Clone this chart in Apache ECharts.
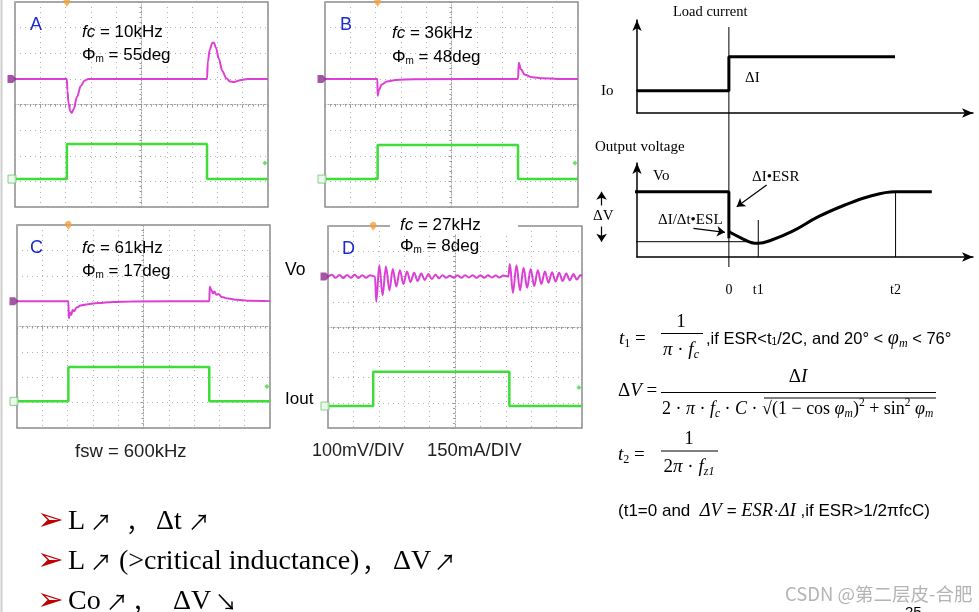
<!DOCTYPE html>
<html><head><meta charset="utf-8">
<script src="https://cdn.jsdelivr.net/npm/echarts@6/dist/echarts.min.js"></script>
<style>html,body{margin:0;padding:0;background:#fff}#c{width:979px;height:612px}</style>
</head><body><div id="c"></div>
<script>
// ---------- Oscilloscope traces: [time (div from centre), level (div from centre)]
const vA = [[-5,1.0],[-2.95,1.0],[-2.93,0.55],[-2.88,0.05],[-2.82,-0.25],[-2.76,-0.33],[-2.68,-0.18],[-2.55,0.3],[-2.4,0.72],[-2.25,0.93],[-2.1,1.0],[2.59,1.0],[2.62,1.65],[2.7,2.15],[2.8,2.4],[2.86,2.42],[2.95,2.2],[3.05,1.8],[3.2,1.3],[3.35,1.02],[3.5,0.9],[3.65,0.88],[3.9,0.95],[4.2,1.0],[5,1.0]];
const iA = [[-5,-2.91],[-2.95,-2.91],[-2.95,-1.54],[2.59,-1.54],[2.59,-2.91],[5,-2.91]];
const vB = [[-5,1.0],[-2.93,1.0],[-2.92,0.34],[-2.86,0.58],[-2.76,0.78],[-2.55,0.9],[-2.2,0.96],[-1.5,0.99],[2.63,1.0],[2.66,1.63],[2.74,1.38],[2.9,1.16],[3.2,1.06],[3.6,1.02],[4.2,1.0],[5,1.0]];
const iB = [[-5,-2.91],[-2.92,-2.91],[-2.92,-1.58],[2.63,-1.58],[2.63,-2.91],[5,-2.91]];
const vC = [[-5,1.0],[-2.97,1.0],[-2.95,0.33],[-2.9,0.55],[-2.86,0.45],[-2.8,0.65],[-2.74,0.6],[-2.65,0.75],[-2.45,0.84],[-2.2,0.88],[-1.8,0.93],[-1.2,0.97],[-0.5,0.99],[2.6,1.0],[2.62,1.57],[2.68,1.45],[2.74,1.3],[2.8,1.38],[2.88,1.25],[2.96,1.28],[3.1,1.16],[3.35,1.1],[3.7,1.05],[4.2,1.01],[5,1.0]];
const iC = [[-5,-2.95],[-2.97,-2.95],[-2.97,-1.6],[2.6,-1.6],[2.6,-2.95],[5,-2.95]];
const vD = [[-5,2.0],[-4.85,2.07],[-4.7,1.95],[-4.55,2.06],[-4.4,1.94],[-4.25,2.06],[-4.1,1.95],[-3.95,2.07],[-3.8,1.94],[-3.65,2.05],[-3.5,1.95],[-3.35,2.05],[-3.15,2.0],[-3.1,1.0],[-2.98,2.45],[-2.85,1.25],[-2.72,2.4],[-2.58,1.45],[-2.45,2.3],[-2.31,1.6],[-2.17,2.25],[-2.03,1.7],[-1.89,2.2],[-1.75,1.78],[-1.61,2.15],[-1.47,1.82],[-1.33,2.12],[-1.19,1.86],[-1.05,2.1],[-0.91,1.9],[-0.77,2.07],[-0.63,1.93],[-0.49,2.05],[-0.35,1.95],[-0.2,2.03],[-0.05,1.95],[0.1,2.05],[0.25,1.95],[0.4,2.05],[0.55,1.96],[0.7,2.05],[0.85,1.95],[1.0,2.05],[1.15,1.95],[1.3,2.05],[1.45,1.96],[1.6,2.04],[1.75,1.96],[1.9,2.04],[2.1,2.0],[2.16,2.5],[2.28,1.35],[2.42,2.45],[2.56,1.45],[2.7,2.35],[2.84,1.55],[2.98,2.3],[3.12,1.62],[3.26,2.25],[3.4,1.7],[3.54,2.2],[3.68,1.75],[3.82,2.17],[3.96,1.8],[4.1,2.15],[4.24,1.82],[4.38,2.12],[4.52,1.85],[4.66,2.1],[4.8,1.88],[4.94,2.06],[5,2.0]];
const iD = [[-5,-3.13],[-3.22,-3.13],[-3.22,-1.77],[2.14,-1.77],[2.14,-3.13],[5,-3.13]];
const triggerX = [-2.95, -2.92, -2.97, -3.22];
const rightMarkY = [-2.28, -2.28, -2.36, -2.4];
const panelNames = ['A', 'B', 'C', 'D'];
const panelFc = ['10kHz', '36kHz', '61kHz', '27kHz'];
const panelPm = ['55deg', '48deg', '17deg', '8deg'];

// ---------- Transient diagram (time units, level units)
const loadLead = [[-0.33,2.23],[0,2.23]];
const loadCurrent = [[0,2.23],[3.5,2.23],[3.5,5.63],[9.83,5.63]];
const vHold = [[-1.41,6.53],[3.5,6.53],[3.5,1.87]];
const vRecover = [[3.52,2.55],[3.61,2.37],[3.99,1.87],[4.37,1.43],[4.62,1.37],[5.13,1.7],[5.89,2.53],[6.91,4.03],[7.92,5.2],[8.81,6.03],[9.83,6.53],[11.23,6.53]];
const dvBottom = [[-1.41,1.53],[4.4,1.53]];
const zeroLine = [[3.5,23],[3.5,-1.0]];
const t1Line = [[4.62,3.7],[4.62,0]];
const t2Line = [[9.85,6.53],[9.85,0]];
const dvArrow = [[-1.35,6.53],[-1.35,1.53]];
const esrArrow = [[4.94,7.2],[3.8,5.03]];
const eslArrow = [[2.15,2.87],[3.35,2.47]];
const diagTickValues = [3.5, 4.62, 9.85];
const diagTickLabels = ['0', 't1', 't2'];

const SANS = '"Liberation Sans", Arial, sans-serif';
const SERIF = '"Liberation Serif", "Times New Roman", serif';
const MAG = '#dc3fd6', GRN = '#3fdc3a';

const vTraces = [vA, vB, vC, vD];
const iTraces = [iA, iB, iC, iD];
const grids = [], xAxes = [], yAxes = [], series = [];
const scopeGrids = [
  {left: 15, top: 2, width: 253, height: 205},
  {left: 325, top: 2, width: 253, height: 205},
  {left: 17, top: 225, width: 253, height: 203},
  {left: 328, top: 226, width: 254, height: 202}
];
scopeGrids.forEach((g, k) => {
  grids.push(Object.assign({show: true, borderColor: '#8a8a8a', borderWidth: 1.5, backgroundColor: '#fff'}, g));
  const ax = {
    type: 'value', gridIndex: k, interval: 1, axisLabel: {show: false},
    axisLine: {show: true, onZero: true, lineStyle: {color: '#a0a0a0', width: 1, type: [1, 2]}},
    axisTick: {show: true, length: 3, lineStyle: {color: '#999'}},
    minorTick: {show: true, splitNumber: 5, length: 2, lineStyle: {color: '#999'}},
    splitLine: {show: true, lineStyle: {color: '#b0b0b0', width: 1, type: [1, 4]}}
  };
  xAxes.push(Object.assign({}, ax, {min: -5, max: 5}));
  yAxes.push(Object.assign({}, ax, {min: -4, max: 4}));
  series.push({type: 'line', xAxisIndex: k, yAxisIndex: k, data: iTraces[k], showSymbol: false, silent: true,
    lineStyle: {color: GRN, width: 2.5}, z: 3});
  series.push({type: 'line', xAxisIndex: k, yAxisIndex: k, data: vTraces[k], showSymbol: false, silent: true,
    smooth: 0.35, smoothMonotone: 'x', lineStyle: {color: MAG, width: 2}, z: 4});
  series.push({type: 'scatter', xAxisIndex: k, yAxisIndex: k, clip: false, silent: true, z: 5,
    data: [[triggerX[k], 3.78]], symbol: 'pin', symbolSize: 11, itemStyle: {color: '#f2a03c'}});
  series.push({type: 'scatter', xAxisIndex: k, yAxisIndex: k, clip: false, silent: true, z: 5,
    data: [[-5, vTraces[k][0][1]]], symbol: 'path://M0,0 L6,0 L10,5 L6,10 L0,10 Z', symbolSize: [9, 8], symbolOffset: [-3, 0],
    itemStyle: {color: '#8e2a8e'}});
  series.push({type: 'scatter', xAxisIndex: k, yAxisIndex: k, clip: false, silent: true, z: 5,
    data: [[-5, iTraces[k][0][1]]], symbol: 'rect', symbolSize: [8, 8], symbolOffset: [-3, 0],
    itemStyle: {color: '#e8f8e8', borderColor: '#6cc46c', borderWidth: 1}});
  series.push({type: 'scatter', xAxisIndex: k, yAxisIndex: k, clip: false, silent: true, z: 5,
    data: [[4.88, rightMarkY[k]]], symbol: 'diamond', symbolSize: 5, itemStyle: {color: GRN}});
});

// diagram grids
grids.push({left: 637, top: 20, width: 336, height: 93, show: false});
grids.push({left: 637, top: 163, width: 336, height: 94, show: false});
const dLine = {show: true, onZero: false, symbol: ['none', 'arrow'], symbolSize: [7, 11], lineStyle: {color: '#000', width: 1.5}};
[4, 5].forEach(gi => {
  xAxes.push({type: 'value', gridIndex: gi, min: 0, max: 12.8, axisLine: dLine, axisTick: {show: false},
    splitLine: {show: false},
    axisLabel: gi === 5 ? {show: true, customValues: diagTickValues, margin: 26, fontFamily: SERIF, fontSize: 14, color: '#000',
      formatter: v => diagTickLabels[diagTickValues.indexOf(v)]} : {show: false}});
  yAxes.push({type: 'value', gridIndex: gi, min: 0, max: gi === 4 ? 9.3 : 9.4, axisLine: dLine, axisTick: {show: false},
    splitLine: {show: false}, axisLabel: {show: false}});
});
function dser(gi, data, w, extra) {
  series.push(Object.assign({type: 'line', xAxisIndex: gi, yAxisIndex: gi, data: data, showSymbol: false, clip: false,
    silent: true, lineStyle: {color: '#000', width: w}, z: 3}, extra || {}));
}
dser(4, loadLead, 1.2);
dser(4, loadCurrent, 3);
dser(5, zeroLine, 1);
dser(5, t1Line, 1);
dser(5, t2Line, 1);
dser(5, dvBottom, 1);
dser(5, vHold, 3);
dser(5, vRecover, 3, {smooth: 0.4});
series.push({type: 'lines', coordinateSystem: 'cartesian2d', xAxisIndex: 5, yAxisIndex: 5, clip: false, silent: true, z: 4,
  symbol: ['none', 'arrow'], symbolSize: 8, lineStyle: {color: '#000', width: 1.2, opacity: 1, curveness: 0},
  data: [{coords: esrArrow}, {coords: eslArrow}]});
series.push({type: 'lines', coordinateSystem: 'cartesian2d', xAxisIndex: 5, yAxisIndex: 5, clip: false, silent: true, z: 4,
  symbol: ['arrow', 'arrow'], symbolSize: 8, lineStyle: {color: '#000', width: 1.2, opacity: 1, curveness: 0},
  data: [{coords: dvArrow}]});

// ---------- text
const G = [];
function T(x, y, text, st) {
  G.push({type: 'text', x: x, y: y, z: 50, silent: true,
    style: Object.assign({text: text, fill: '#000', fontFamily: SANS, fontSize: 14, align: 'left', verticalAlign: 'middle'}, st || {})});
}
function L(x1, y1, x2, y2, w, c) {
  G.push({type: 'line', z: 50, silent: true, shape: {x1: x1, y1: y1, x2: x2, y2: y2}, style: {stroke: c || '#000', lineWidth: w || 1}});
}
G.push({type: 'line', z: 1, silent: true, shape: {x1: 1.5, y1: 0, x2: 1.5, y2: 612}, style: {stroke: '#cfcfcf', lineWidth: 2}});
G.push({type: 'rect', z: 40, silent: true, shape: {x: 390, y: 217, width: 128, height: 17}, style: {fill: '#fff'}});

const labelPos = [[30, 25, 82, 32, 55], [340, 25, 392, 33, 57], [30, 248, 82, 248, 271], [342, 249, 400, 225, 246]];
labelPos.forEach((p, k) => {
  T(p[0], p[1], panelNames[k], {fill: '#1a2ad0', fontSize: 18});
  T(p[2], p[3], '{i|fc} = ' + panelFc[k], {fontSize: 17, rich: {i: {fontStyle: 'italic', fontFamily: SANS, fontSize: 17}}});
  T(p[2], p[4], 'Φ{s|m} = ' + panelPm[k], {fontSize: 17, rich: {s: {fontFamily: SANS, fontSize: 10, padding: [8, 0, 0, 0]}}});
});
T(285, 270, 'Vo', {fontSize: 17.5});
T(285, 399, 'Iout', {fontSize: 17});
T(75, 452, 'fsw = 600kHz', {fontSize: 18.5, fill: '#222'});
T(312, 451, '100mV/DIV', {fontSize: 18, fill: '#222'});
T(427, 451, '150mA/DIV', {fontSize: 18.5, fill: '#222'});

// diagram labels
const DS = {fontFamily: SERIF, fontSize: 15};
T(673, 12, 'Load current', {fontFamily: SERIF, fontSize: 14.5});
T(601, 91, 'Io', DS);
T(745, 78, 'ΔI', DS);
T(595, 147, 'Output voltage', DS);
T(653, 176, 'Vo', DS);
T(752, 177, 'ΔI•ESR', DS);
T(593, 216, 'ΔV', Object.assign({backgroundColor: '#fff', padding: [3, 0]}, DS));
T(658, 220, 'ΔI/Δt•ESL', DS);

// formulas
const R = {
  it: {fontFamily: SERIF, fontStyle: 'italic', fontSize: 19},
  n: {fontFamily: SERIF, fontSize: 19},
  sb: {fontFamily: SERIF, fontSize: 12, padding: [10, 0, 0, 0]},
  sb2: {fontFamily: SERIF, fontStyle: 'italic', fontSize: 12, padding: [10, 0, 0, 0]},
  sp: {fontFamily: SERIF, fontSize: 12, padding: [0, 0, 12, 0]}
};
const R2 = {
  it: {fontFamily: SERIF, fontStyle: 'italic', fontSize: 18},
  n: {fontFamily: SERIF, fontSize: 18},
  sb2: {fontFamily: SERIF, fontStyle: 'italic', fontSize: 11.5, padding: [10, 0, 0, 0]},
  sp: {fontFamily: SERIF, fontSize: 11.5, padding: [0, 0, 12, 0]}
};
const F = {fontFamily: SERIF, fontSize: 19, rich: R};
T(619, 339, '{it|t}{sb|1}{n| =}', F);
T(681, 322, '1', Object.assign({align: 'center'}, F));
L(661, 333.5, 703, 333.5, 1.2);
T(681, 350, '{it|π}{n| · }{it|f}{sb2|c}', Object.assign({align: 'center'}, F));
T(706, 339, ',if ESR<t{s|1}/2C, and 20° < {g|φ}{gs|m} < 76°', {fontFamily: SANS, fontSize: 16.5, rich: {
  s: {fontFamily: SANS, fontSize: 10, padding: [6, 0, 0, 0]},
  g: {fontFamily: SERIF, fontStyle: 'italic', fontSize: 20},
  gs: {fontFamily: SERIF, fontStyle: 'italic', fontSize: 12, padding: [10, 0, 0, 0]}}});

T(618, 391, '{n|Δ}{it|V}{n| =}', F);
T(798, 377, '{n|Δ}{it|I}', Object.assign({align: 'center'}, F));
L(661, 392.5, 936, 392.5, 1.2);
T(662, 409, '2 · {it|π} · {it|f}{sb2|c} · {it|C} · {n|√}(1 − cos {it|φ}{sb2|m}){sp|2} + sin{sp|2} {it|φ}{sb2|m}', {fontFamily: SERIF, fontSize: 18, rich: R2});
L(764, 398, 936, 398, 1.2);

T(618, 455, '{it|t}{sb|2}{n| =}', F);
T(689, 439, '1', Object.assign({align: 'center'}, F));
L(661, 451, 718, 451, 1.2);
T(689, 467, '2{it|π} · {it|f}{sb2|z1}', Object.assign({align: 'center'}, F));

T(618, 511, '(t1=0 and  {g|ΔV} = {g|ESR}·{g|ΔI} ,if ESR>1/2πfcC)', {fontFamily: SANS, fontSize: 17, rich: {
  g: {fontFamily: SERIF, fontStyle: 'italic', fontSize: 18.5}}});

// bullets
const BS = {fontFamily: SERIF, fontSize: 28};
const AR = {fontFamily: '"Noto Sans CJK SC", sans-serif', fontSize: 22};
const CM = {fontFamily: '"Noto Sans CJK SC", sans-serif', fontSize: 24};
const MK = {fontFamily: '"DejaVu Sans", sans-serif', fontSize: 32, fill: '#c00000'};
[522, 562, 602].forEach(y => T(37, y, '➢', MK));
T(68, 522, 'L', BS); T(90, 522, '↗', AR); T(126, 522, '，', CM); T(156, 522, 'Δt', BS); T(188, 522, '↗', AR);
T(68, 562, 'L', BS); T(90, 562, '↗', AR); T(119, 562, '(>critical inductance)', BS); T(362, 562, '，', CM);
T(393, 562, 'ΔV', BS); T(434, 562, '↗', AR);
T(68, 602, 'Co', BS); T(106, 602, '↗', AR); T(132, 602, '，', CM); T(173, 602, 'ΔV', BS); T(215, 602, '↘', AR);

T(785, 594, 'CSDN @第二层皮-合肥', {fontFamily: '"Noto Sans CJK SC", sans-serif', fontSize: 18.5, fill: '#b4b4b4'});
T(905, 605, '25', {fontSize: 15, verticalAlign: 'top'});

const chart = echarts.init(document.getElementById('c'), null, {renderer: 'canvas'});
chart.setOption({
  animation: false,
  backgroundColor: '#fff',
  grid: grids, xAxis: xAxes, yAxis: yAxes, series: series, graphic: {elements: G}
});
</script></body></html>
